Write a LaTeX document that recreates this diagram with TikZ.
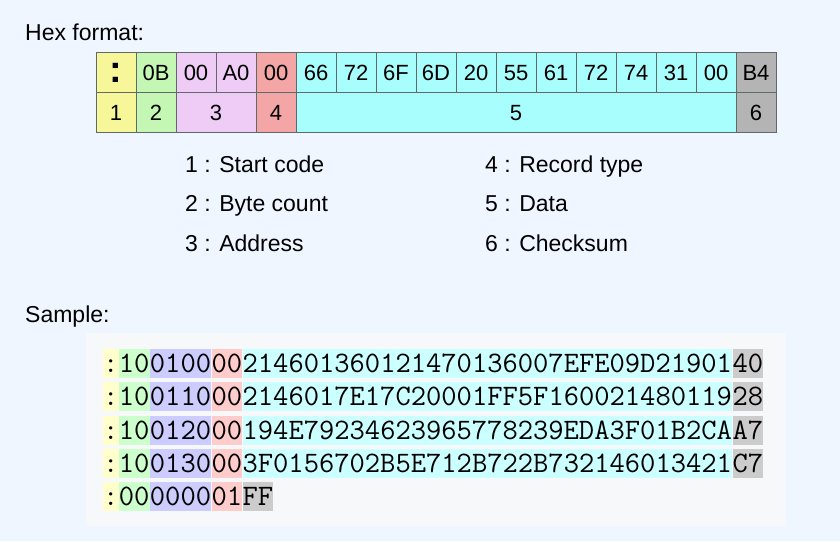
\documentclass[tikz,border=0pt]{standalone}
\usepackage{fontspec}
\setmainfont{Liberation Sans}
\usetikzlibrary{positioning}

\definecolor{hgrund}{RGB}{239,246,255}
\definecolor{probegrund}{RGB}{247,248,250}
\definecolor{rahmen}{RGB}{95,105,105}
\definecolor{tgelb}{RGB}{247,247,154}
\definecolor{tgruen}{RGB}{196,247,180}
\definecolor{tlila}{RGB}{238,204,246}
\definecolor{trot}{RGB}{244,166,166}
\definecolor{tcyan}{RGB}{168,254,252}
\definecolor{tgrau}{RGB}{180,180,180}
\definecolor{pgelb}{RGB}{255,255,204}
\definecolor{pgruen}{RGB}{204,255,204}
\definecolor{plila}{RGB}{204,204,255}
\definecolor{prot}{RGB}{255,204,204}
\definecolor{pcyan}{RGB}{204,255,255}
\definecolor{pgrau}{RGB}{204,204,204}

\tikzset{
	zelle/.style={draw=rahmen, line width=0.8pt, minimum width=40pt, minimum height=40pt, inner sep=0pt, text height=16pt, text depth=0pt, font=\fontsize{22}{26}\selectfont},
	legende/.style={anchor=base west, inner sep=0pt, font=\fontsize{23}{27}\selectfont},
	feld/.style={minimum height=29pt, inner sep=0pt, text height=17.9pt, text depth=0pt, font=\fontsize{29.7}{30}\selectfont\ttfamily},
}

\begin{document}
\begin{tikzpicture}[x=1pt,y=-1pt]
	% Hintergrund und Kasten fuer die Beispiele
	\fill[hgrund] (0,0) rectangle (840,541);
	\fill[probegrund] (86,333) rectangle (786,526);
	
	% Ueberschriften
	\node[legende] (titel) at (25,40) {Hex format:};
	\node[legende] (probe) at (25,322) {Sample:};
	
	% Obere Zeile der Tabelle
	\node[zelle, fill=tgelb, text height=20pt, font=\fontsize{38}{40}\selectfont\bfseries] (kop) at (116,72) {:};
	\node[zelle, fill=tgruen] (kbc) at (156,72) {0B};
	\node[zelle, fill=tlila] (kad1) at (196,72) {00};
	\node[zelle, fill=tlila] (kad2) at (236,72) {A0};
	\node[zelle, fill=trot] (krt) at (276,72) {00};
	\foreach \t [count=\i from 0] in {66,72,6F,6D,20,55,61,72,74,31,00} {
		\node[zelle, fill=tcyan] (kd\i) at (316+40*\i,72) {\t};
	}
	\node[zelle, fill=tgrau] (kcs) at (756,72) {B4};
	
	% Untere Zeile mit den Nummern
	\node[zelle, fill=tgelb] (n1) at (116,112) {1};
	\node[zelle, fill=tgruen] (n2) at (156,112) {2};
	\node[zelle, fill=tlila, minimum width=80pt] (n3) at (216,112) {3};
	\node[zelle, fill=trot] (n4) at (276,112) {4};
	\node[zelle, fill=tcyan, minimum width=440pt] (n5) at (516,112) {5};
	\node[zelle, fill=tgrau] (n6) at (756,112) {6};
	
	% Legende (1-3 links, 4-6 rechts)
	\foreach \t [count=\i] in {Start code,Byte count,Address} {
		\node[legende] (l\i) at (185,132.5+39.5*\i) {\i{} : \t};
	}
	\foreach \t [count=\i from 4] in {Record type,Data,Checksum} {
		\node[legende] (l\i) at (485,132.5+39.5*\i-118.5) {\i{} : \t};
	}
	
	% Beispielzeilen
	\foreach \bc/\ad/\rt/\dat/\cs [count=\r from 0] in {
		10/0100/00/214601360121470136007EFE09D21901/40,
		10/0110/00/2146017E17C20001FF5F160021480119/28,
		10/0120/00/194E79234623965778239EDA3F01B2CA/A7,
		10/0130/00/3F0156702B5E712B722B732146013421/C7} {
		\node[feld, fill=pgelb, minimum width=15.3pt, anchor=north west] (s\r) at (103,349+33.2*\r) {:};
		\node[feld, fill=pgruen, minimum width=30.6pt, right=0pt of s\r] (b\r) {\bc};
		\node[feld, fill=plila, minimum width=61.2pt, right=0pt of b\r] (a\r) {\ad};
		\node[feld, fill=prot, minimum width=30.6pt, right=0pt of a\r] (t\r) {\rt};
		\node[feld, fill=pcyan, minimum width=489.6pt, right=0pt of t\r] (d\r) {\dat};
		\node[feld, fill=pgrau, minimum width=30.6pt, right=0pt of d\r] (c\r) {\cs};
	}
	
	% Letzte Zeile (End of file)
	\node[feld, fill=pgelb, minimum width=15.3pt, anchor=north west] (s4) at (103,349+33.2*4) {:};
	\node[feld, fill=pgruen, minimum width=30.6pt, right=0pt of s4] (b4) {00};
	\node[feld, fill=plila, minimum width=61.2pt, right=0pt of b4] (a4) {0000};
	\node[feld, fill=prot, minimum width=30.6pt, right=0pt of a4] (t4) {01};
	\node[feld, fill=pgrau, minimum width=30.6pt, right=0pt of t4] (c4) {FF};
\end{tikzpicture}
\end{document}
